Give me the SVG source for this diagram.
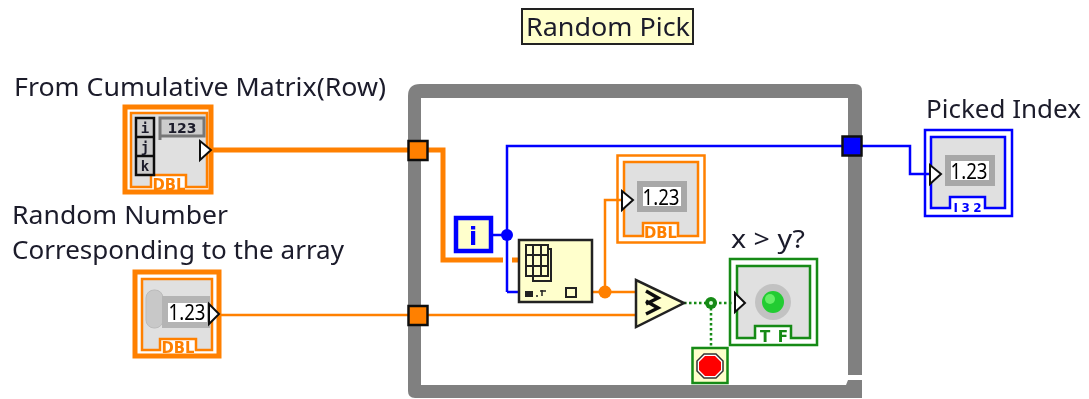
<svg xmlns="http://www.w3.org/2000/svg" width="1089" height="399" viewBox="0 0 1089 399">
<defs><filter id="soft" x="0" y="0" width="100%" height="100%"><feGaussianBlur stdDeviation="0.55"/></filter></defs>
<style>
text{font-family:"Noto Sans","Liberation Sans",sans-serif;fill:#1a1a2a}
.lbl{font-size:26px}
.tab{font-size:15px;font-weight:bold;text-anchor:middle;font-family:"DejaVu Sans",sans-serif}
.num{font-size:22px;text-anchor:middle;fill:#000}
.o{stroke:#ff8000;fill:none}
.b{stroke:#0000ff;fill:none}
.g{stroke:#128a12;fill:none}
.nbox{fill:#fff;stroke:#a8a8a8;stroke-width:6}
.tri{fill:#fff;stroke:#111;stroke-width:2}
.tun{stroke:#111;stroke-width:2.5}
.func{fill:#ffffcc;stroke:#222;stroke-width:2.500}
.k{fill:none;stroke:#111;stroke-width:2.500}
</style>
<rect width="1089" height="399" fill="#fff"/>
<g filter="url(#soft)">
<g id="loop-frame">
<path d="M408 391V96Q408 84 420 84H855Q862 84 862 91V375H848V98H421V385H846L848 380H862V398H415Q408 398 408 391Z" fill="#808080"/>
</g>
<g id="connectors" fill="none">
<path d="M213 150H443V260H503M512 260H518" class="o" stroke-width="5"/>
<path d="M221 315H636" class="o" stroke-width="2.500"/>
<path d="M592 292H636M605 292V200H621" class="o" stroke-width="2.500"/>
<path d="M492 235H507M507 292V146H843M507 292H518" class="b" stroke-width="2.500"/>
<path d="M862 146H910V174H930" class="b" stroke-width="2.500"/>
<path d="M684 303H733M711 303V347" stroke="#128a12" stroke-width="2.500" stroke-dasharray="2.5 2.5"/>
<circle cx="507" cy="235" r="6" fill="#0000ff"/>
<circle cx="605" cy="292" r="6.500" fill="#ff8000"/>
<circle cx="711" cy="303" r="6" fill="#128a12"/>
<circle cx="711" cy="303" r="2" fill="#dfd"/>
</g>
<g id="title">
<rect x="522" y="9" width="171" height="35" fill="#ffffcc" stroke="#222" stroke-width="2"/>
<text class="lbl" x="526" y="36" textLength="164" lengthAdjust="spacingAndGlyphs">Random Pick</text>
</g>
<g id="tunnel-top"><rect x="408.500" y="141" width="19" height="19" fill="#ff8000" class="tun"/></g>
<g id="tunnel-bottom"><rect x="408.500" y="306" width="19" height="19" fill="#ff8000" class="tun"/></g>
<g id="tunnel-output"><rect x="842.500" y="136.500" width="19" height="19" fill="#0000ff" class="tun"/></g>
<g id="cumulative-matrix">
<text class="lbl" x="14" y="96" textLength="372" lengthAdjust="spacingAndGlyphs">From Cumulative Matrix(Row)</text>
<rect x="125" y="107" width="86" height="85" fill="#fff" class="o" stroke-width="5"/>
<path d="M131 113H207V187H186V175H151V187H131Z" class="o" stroke-width="2.500" style="fill:#e0e0e0"/>
<rect x="136" y="118" width="18" height="57" fill="#ccc" stroke="#111" stroke-width="2.500"/>
<path d="M136 137H154M136 156H154" class="k"/>
<text x="145" y="133" style="font-size:14px;font-weight:bold;font-family:'DejaVu Sans Mono',monospace" text-anchor="middle">i</text>
<text x="145" y="152" style="font-size:14px;font-weight:bold;font-family:'DejaVu Sans Mono',monospace" text-anchor="middle">j</text>
<text x="145" y="171" style="font-size:14px;font-weight:bold;font-family:'DejaVu Sans Mono',monospace" text-anchor="middle">k</text>
<path d="M160 140V118H204V136H160" fill="#ccc" stroke="#777" stroke-width="3"/>
<text x="182" y="133" style="font-size:14px;font-weight:bold;font-family:'DejaVu Sans',sans-serif" text-anchor="middle">123</text>
<path d="M200 141L211 150L200 160Z" class="tri"/>
<text class="tab" x="169" y="190" textLength="33" lengthAdjust="spacingAndGlyphs" style="fill:#ff8000">DBL</text>
</g>
<g id="random-number">
<text class="lbl" x="12" y="224" textLength="216" lengthAdjust="spacingAndGlyphs">Random Number</text>
<text class="lbl" x="12" y="259" textLength="332" lengthAdjust="spacingAndGlyphs">Corresponding to the array</text>
<rect x="135" y="272" width="84" height="84" fill="#fff" class="o" stroke-width="5"/>
<path d="M142 279H212V350H196V339H160V350H142Z" style="fill:#e0e0e0" class="o" stroke-width="2.500"/>
<rect x="146" y="290" width="17" height="38" rx="8" fill="#c8c8c8" stroke="#bbb"/>
<rect x="162" y="296" width="48" height="32" fill="#b4b4b4"/>
<rect x="168" y="303" width="39" height="19" fill="#fff"/>
<text class="num" x="187" y="320" textLength="37" lengthAdjust="spacingAndGlyphs">1.23</text>
<path d="M209 304L219 314L209 324Z" class="tri"/>
<text class="tab" x="178" y="353" textLength="33" lengthAdjust="spacingAndGlyphs" style="fill:#ff8000">DBL</text>
</g>
<g id="iteration">
<rect x="456" y="218" width="35" height="33" fill="#ffffcc" stroke="#0000ff" stroke-width="4.500"/>
<text x="473" y="245" text-anchor="middle" style="font-size:24px;font-weight:bold;fill:#0000ff;font-family:'DejaVu Sans',sans-serif">i</text>
</g>
<g id="index-array">
<rect x="519" y="240" width="73" height="62" class="func"/>
<g fill="none" stroke="#222" stroke-width="2">
<rect x="526" y="245" width="22" height="31"/>
<path d="M533 245V276M541 245V276M526 255H548M526 266H548M548 249H551V281H533V276"/>
</g>
<rect x="525" y="291" width="8" height="6" fill="#222"/>
<path d="M536 296H538M542 296V290M540 291H546" stroke="#222" stroke-width="1.500" fill="none"/>
<rect x="566" y="288" width="10" height="9" fill="none" stroke="#222" stroke-width="2"/>
</g>
<g id="element-indicator">
<rect x="617.500" y="155.500" width="87" height="87" fill="#fff" class="o" stroke-width="2.500"/>
<path d="M624 162H698V236H678V223H643V236H624Z" style="fill:#e0e0e0" class="o" stroke-width="2.500"/>
<rect x="640" y="184" width="44" height="25" class="nbox"/>
<text class="num" x="661" y="205" textLength="37" lengthAdjust="spacingAndGlyphs">1.23</text>
<path d="M622 191L633 200L622 210Z" class="tri"/>
<text class="tab" x="660.500" y="238" textLength="33" lengthAdjust="spacingAndGlyphs" style="fill:#ff8000">DBL</text>
</g>
<g id="compare">
<path d="M636 280V327L684 303Z" fill="#ffffcc" stroke="#222" stroke-width="2.500"/>
<path d="M646 291L658 298L646 304M646 301L658 308L646 314" fill="none" stroke="#111" stroke-width="3.500"/>
</g>
<g id="gt-indicator">
<text class="lbl" x="731" y="248" textLength="74" lengthAdjust="spacingAndGlyphs">x &gt; y?</text>
<rect x="730" y="259" width="87" height="86" fill="#fff" class="g" stroke-width="2.500"/>
<path d="M737 266H810V338H791V326H755V338H737Z" style="fill:#e0e0e0" class="g" stroke-width="2.500"/>
<circle cx="773" cy="302" r="18" fill="#aaa" opacity=".55"/>
<circle cx="773" cy="302" r="11" fill="#22cc33"/>
<circle cx="770" cy="299" r="5" fill="#66ee66"/>
<path d="M735 293L745 303L735 312Z" class="tri"/>
<text class="tab" x="774" y="342" textLength="28" style="fill:#128a12">TF</text>
</g>
<g id="stop">
<rect x="692.500" y="348" width="35" height="35" fill="#ffffcc" stroke="#128a12" stroke-width="2.500"/>
<path d="M704 354H716L723 361V371L716 378H704L697 371V361Z" fill="#fff" stroke="#333" stroke-width="1.500"/>
<path d="M705 356H715L721 362V370L715 376H705L699 370V362Z" fill="#ff0000"/>
</g>
<g id="picked-index">
<text class="lbl" x="926" y="118" textLength="155" lengthAdjust="spacingAndGlyphs">Picked Index</text>
<rect x="925" y="130" width="87" height="86" fill="#fff" class="b" stroke-width="2.500"/>
<path d="M931 137H1005V208H985V197H950V208H931Z" style="fill:#e0e0e0" class="b" stroke-width="2.500"/>
<rect x="948" y="158" width="44" height="25" class="nbox"/>
<text class="num" x="969" y="179" textLength="37" lengthAdjust="spacingAndGlyphs">1.23</text>
<path d="M930 165L941 174L930 184Z" class="tri"/>
<text class="tab" x="967.500" y="212" textLength="28" style="fill:#0000ff;font-size:12px">I32</text>
</g>
</g>
</svg>
